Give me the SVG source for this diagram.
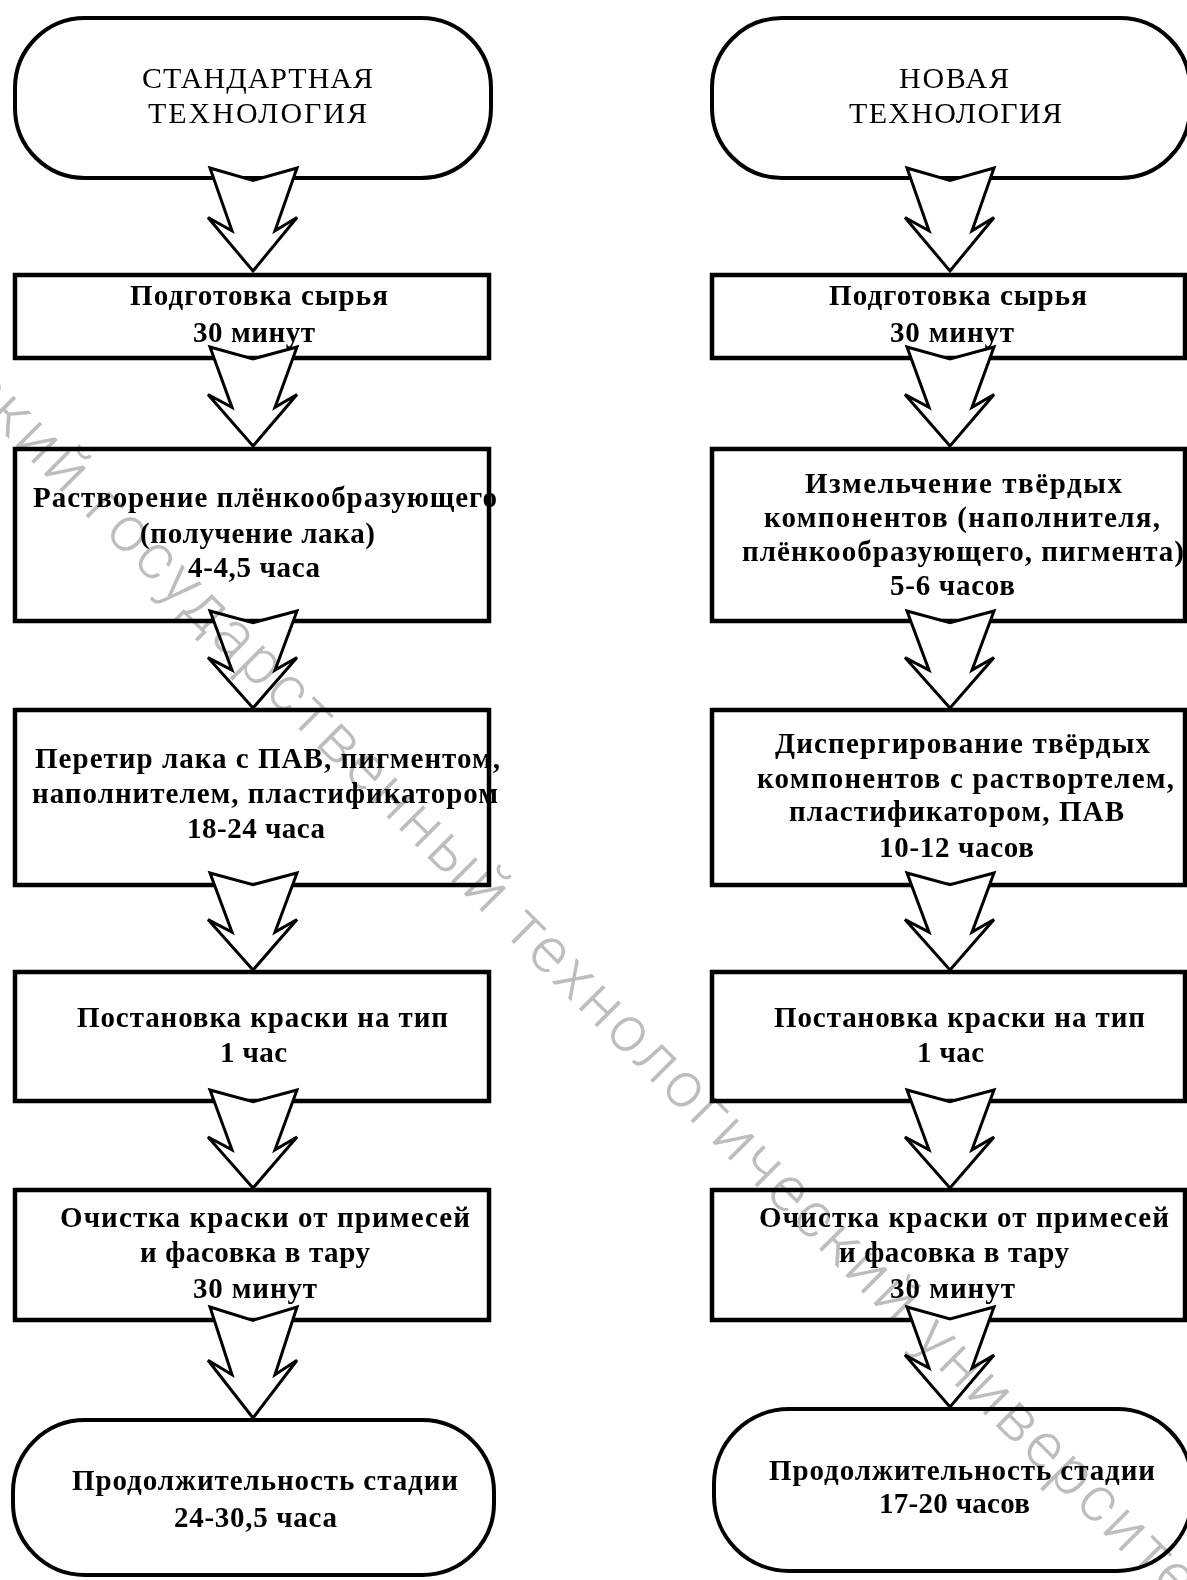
<svg xmlns="http://www.w3.org/2000/svg" xmlns:xlink="http://www.w3.org/1999/xlink" width="1187" height="1580" viewBox="0 0 1187 1580">
<style>
.box{fill:none;stroke:#000;stroke-width:4.5}
.term{fill:none;stroke:#000;stroke-width:4}
.arr{fill:#fff;stroke:#000;stroke-width:3;stroke-linejoin:miter;vector-effect:non-scaling-stroke}
.t{font-family:"Liberation Serif","Times New Roman",serif;font-weight:bold;font-size:29px;fill:#000}
.h{font-family:"Liberation Serif","Times New Roman",serif;font-size:30px;fill:#000}
.wm{font-family:Roboto,"Liberation Sans",Arial,sans-serif;font-weight:300;font-size:64px;fill:#bdbdbd;mix-blend-mode:multiply}
</style>
<defs>
<path id="arrow" class="arr" d="M-43,0 L0,12 L44,0 L22,61 L44,48 L0,100 L-45,48 L-21,61 Z"/>
</defs>
<rect x="0" y="0" width="1187" height="1580" fill="#fff"/>

<g id="std-start">
<rect class="term" x="15" y="18" width="476" height="160" rx="70" ry="70"/>
<text class="h" x="142" y="88" textLength="231" lengthAdjust="spacing">СТАНДАРТНАЯ</text>
<text class="h" x="148" y="123" textLength="219" lengthAdjust="spacing">ТЕХНОЛОГИЯ</text>
</g>
<g id="std-1">
<rect class="box" x="15" y="275" width="474" height="83"/>
<text class="t" x="130" y="305" textLength="258" lengthAdjust="spacing">Подготовка сырья</text>
<text class="t" x="193" y="342" textLength="122" lengthAdjust="spacing">30 минут</text>
</g>
<g id="std-2">
<rect class="box" x="15" y="449" width="474" height="172"/>
<text class="t" x="33" y="507" textLength="464" lengthAdjust="spacing">Растворение плёнкообразующего</text>
<text class="t" x="140" y="543" textLength="235" lengthAdjust="spacing">(получение лака)</text>
<text class="t" x="188" y="577" textLength="132" lengthAdjust="spacing">4-4,5 часа</text>
</g>
<g id="std-3">
<rect class="box" x="15" y="710" width="474" height="175"/>
<text class="t" x="35" y="768" textLength="465" lengthAdjust="spacing">Перетир лака с ПАВ, пигментом,</text>
<text class="t" x="32" y="803" textLength="466" lengthAdjust="spacing">наполнителем, пластификатором</text>
<text class="t" x="187" y="838" textLength="138" lengthAdjust="spacing">18-24 часа</text>
</g>
<g id="std-4">
<rect class="box" x="15" y="972" width="474" height="129"/>
<text class="t" x="77" y="1027" textLength="371" lengthAdjust="spacing">Постановка краски на тип</text>
<text class="t" x="220" y="1062" textLength="67" lengthAdjust="spacing">1 час</text>
</g>
<g id="std-5">
<rect class="box" x="15" y="1190" width="474" height="130"/>
<text class="t" x="60" y="1227" textLength="410" lengthAdjust="spacing">Очистка краски от примесей</text>
<text class="t" x="140" y="1262" textLength="230" lengthAdjust="spacing">и фасовка в тару</text>
<text class="t" x="193" y="1298" textLength="124" lengthAdjust="spacing">30 минут</text>
</g>
<g id="std-end">
<rect class="term" x="13" y="1420" width="481" height="155" rx="72" ry="72"/>
<text class="t" x="72" y="1490" textLength="386" lengthAdjust="spacing">Продолжительность стадии</text>
<text class="t" x="174" y="1527" textLength="163" lengthAdjust="spacing">24-30,5 часа</text>
</g>

<g id="new-start">
<rect class="term" x="712" y="18" width="478" height="160" rx="70" ry="70"/>
<text class="h" x="899" y="88" textLength="110" lengthAdjust="spacing">НОВАЯ</text>
<text class="h" x="849" y="123" textLength="213" lengthAdjust="spacing">ТЕХНОЛОГИЯ</text>
</g>
<g id="new-1">
<rect class="box" x="712" y="275" width="473" height="83"/>
<text class="t" x="829" y="305" textLength="258" lengthAdjust="spacing">Подготовка сырья</text>
<text class="t" x="890" y="342" textLength="124" lengthAdjust="spacing">30 минут</text>
</g>
<g id="new-2">
<rect class="box" x="712" y="449" width="473" height="172"/>
<text class="t" x="805" y="493" textLength="317" lengthAdjust="spacing">Измельчение твёрдых</text>
<text class="t" x="764" y="527" textLength="396" lengthAdjust="spacing">компонентов (наполнителя,</text>
<text class="t" x="742" y="561" textLength="442" lengthAdjust="spacing">плёнкообразующего, пигмента)</text>
<text class="t" x="890" y="595" textLength="125" lengthAdjust="spacing">5-6 часов</text>
</g>
<g id="new-3">
<rect class="box" x="712" y="710" width="473" height="175"/>
<text class="t" x="775" y="753" textLength="375" lengthAdjust="spacing">Диспергирование твёрдых</text>
<text class="t" x="757" y="788" textLength="417" lengthAdjust="spacing">компонентов с раствортелем,</text>
<text class="t" x="789" y="821" textLength="335" lengthAdjust="spacing">пластификатором, ПАВ</text>
<text class="t" x="879" y="857" textLength="155" lengthAdjust="spacing">10-12 часов</text>
</g>
<g id="new-4">
<rect class="box" x="712" y="972" width="473" height="129"/>
<text class="t" x="774" y="1027" textLength="371" lengthAdjust="spacing">Постановка краски на тип</text>
<text class="t" x="917" y="1062" textLength="67" lengthAdjust="spacing">1 час</text>
</g>
<g id="new-5">
<rect class="box" x="712" y="1190" width="473" height="130"/>
<text class="t" x="759" y="1227" textLength="410" lengthAdjust="spacing">Очистка краски от примесей</text>
<text class="t" x="839" y="1262" textLength="230" lengthAdjust="spacing">и фасовка в тару</text>
<text class="t" x="890" y="1298" textLength="125" lengthAdjust="spacing">30 минут</text>
</g>
<g id="new-end">
<rect class="term" x="714" y="1409" width="478" height="162" rx="75" ry="75"/>
<text class="t" x="769" y="1480" textLength="386" lengthAdjust="spacing">Продолжительность стадии</text>
<text class="t" x="879" y="1513" textLength="151" lengthAdjust="spacing">17-20 часов</text>
</g>

<g id="connectors">
<use xlink:href="#arrow" transform="translate(253,168) scale(1,1.03)"/>
<use xlink:href="#arrow" transform="translate(253,347) scale(1,0.99)"/>
<use xlink:href="#arrow" transform="translate(253,611) scale(1,0.97)"/>
<use xlink:href="#arrow" transform="translate(253,873) scale(1,0.97)"/>
<use xlink:href="#arrow" transform="translate(253,1090) scale(1,0.98)"/>
<use xlink:href="#arrow" transform="translate(253,1307) scale(1,1.11)"/>
<use xlink:href="#arrow" transform="translate(950,168) scale(1,1.03)"/>
<use xlink:href="#arrow" transform="translate(950,347) scale(1,0.99)"/>
<use xlink:href="#arrow" transform="translate(950,611) scale(1,0.97)"/>
<use xlink:href="#arrow" transform="translate(950,873) scale(1,0.97)"/>
<use xlink:href="#arrow" transform="translate(950,1090) scale(1,0.98)"/>
<use xlink:href="#arrow" transform="translate(950,1307) scale(1,1.0)"/>
</g>

<text class="wm" transform="translate(-40,390) rotate(45)" x="0" y="0" textLength="1750" lengthAdjust="spacing">ский государственный технологический университет</text>
</svg>
